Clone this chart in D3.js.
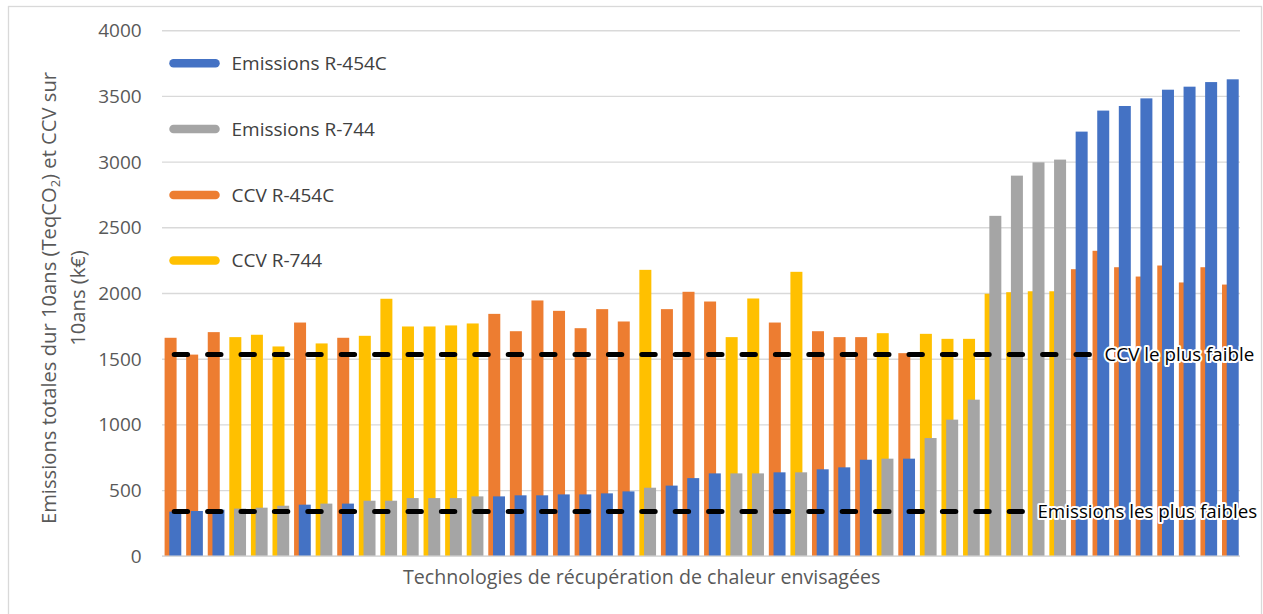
<!DOCTYPE html>
<html>
<head>
<meta charset="utf-8">
<script src="https://cdn.jsdelivr.net/npm/d3@7"></script>
<style>
  html, body { margin: 0; padding: 0; background: #fff; }
  svg { display: block; font-family: "Open Sans", "Noto Sans", sans-serif; }
</style>
</head>
<body>
<svg id="chart" width="1263" height="614"></svg>
<script>
// Heat-recovery technologies, sorted by total emissions over 10 years
const refrigerant = [
  "R-454C","R-454C","R-454C","R-744","R-744","R-744","R-454C","R-744","R-454C","R-744",
  "R-744","R-744","R-744","R-744","R-744","R-454C","R-454C","R-454C","R-454C","R-454C",
  "R-454C","R-454C","R-744","R-454C","R-454C","R-454C","R-744","R-744","R-454C","R-744",
  "R-454C","R-454C","R-454C","R-744","R-454C","R-744","R-744","R-744","R-744","R-744",
  "R-744","R-744","R-454C","R-454C","R-454C","R-454C","R-454C","R-454C","R-454C","R-454C"
];
const categories = refrigerant.map((r, i) => `T${i + 1}`);

// Life-cycle cost over 10 years (k€)
const ccv = [
  1663, 1535, 1706, 1668, 1686, 1597, 1779, 1620, 1663, 1678,
  1960, 1749, 1749, 1757, 1772, 1845, 1713, 1947, 1868, 1736,
  1881, 1787, 2180, 1881, 2013, 1939, 1668, 1962, 1779, 2165,
  1713, 1668, 1668, 1698, 1546, 1693, 1655, 1655, 1998, 2010,
  2017, 2017, 2185, 2325, 2200, 2129, 2213, 2084, 2200, 2068
];

// Total emissions over 10 years (TeqCO2)
const emissions = [
  340, 345, 355, 363, 370, 385, 393, 401, 401, 423,
  423, 443, 443, 443, 456, 456, 464, 464, 471, 471,
  479, 494, 522, 538, 595, 631, 631, 631, 639, 639,
  662, 677, 735, 743, 743, 900, 1040, 1192, 2591, 2897,
  2998, 3019, 3232, 3392, 3427, 3485, 3551, 3574, 3609, 3630
];

const yTicks = [0, 500, 1000, 1500, 2000, 2500, 3000, 3500, 4000];

const seriesNames = ["Emissions R-454C", "Emissions R-744", "CCV R-454C", "CCV R-744"];
const seriesColors = ["#4472C4", "#A5A5A5", "#ED7D31", "#FFC000"];

const svg = d3.select("#chart");
const plot = { left: 162, right: 1241, top: 30.7, bottom: 556.3 };

// chart frame
svg.append("rect")
  .attr("x", 8.5).attr("y", 6.5)
  .attr("width", 1253).attr("height", 620)
  .attr("fill", "#fff").attr("stroke", "#d9d9d9").attr("stroke-width", 1.3);

const x = d3.scaleBand().domain(categories).range([plot.left, plot.right]).padding(0);
const xi = d3.scaleLinear().domain([0, categories.length]).range([plot.left, plot.right]);
const y = d3.scaleLinear().domain([0, 4000]).range([plot.bottom, plot.top]);
const step = x.bandwidth();
const barW = step * 0.556;
const pairStart = step * 0.12;
const shift = step * 0.218;

// gridlines
svg.append("g").selectAll("line").data(yTicks).join("line")
  .attr("x1", plot.left).attr("x2", plot.right - 1)
  .attr("y1", d => y(d)).attr("y2", d => y(d))
  .attr("stroke", "#d9d9d9").attr("stroke-width", 1.4);

// y axis labels
const yAxis = d3.axisLeft(y).tickValues(yTicks).tickFormat(d3.format("d")).tickSize(0).tickPadding(0);
const gy = svg.append("g").attr("transform", `translate(141.7,0)`).call(yAxis);
gy.select(".domain").remove();
gy.selectAll("text")
  .attr("font-family", "'Open Sans', sans-serif")
  .attr("font-size", 19).attr("fill", "#595959");

const colorFor = (kind, r) => {
  if (kind === "em") return r === "R-454C" ? seriesColors[0] : seriesColors[1];
  return r === "R-454C" ? seriesColors[2] : seriesColors[3];
};

// CCV bars (behind)
svg.append("g").selectAll("rect").data(categories).join("rect")
  .attr("x", (c) => x(c) + pairStart)
  .attr("width", barW)
  .attr("y", (c, i) => y(ccv[i]))
  .attr("height", (c, i) => y(0) - y(ccv[i]))
  .attr("fill", (c, i) => colorFor("ccv", refrigerant[i]));

// emission bars (in front, shifted right)
svg.append("g").selectAll("rect").data(categories).join("rect")
  .attr("x", (c) => x(c) + pairStart + shift)
  .attr("width", barW)
  .attr("y", (c, i) => y(emissions[i]))
  .attr("height", (c, i) => y(0) - y(emissions[i]))
  .attr("fill", (c, i) => colorFor("em", refrigerant[i]));

// x axis line
svg.append("line")
  .attr("x1", plot.left).attr("x2", plot.right - 1)
  .attr("y1", y(0)).attr("y2", y(0))
  .attr("stroke", "#d9d9d9").attr("stroke-width", 1.4);

// reference lines at the lowest values
const minLines = [
  { label: "CCV le plus faible", value: d3.min(ccv), from: 0.565, to: 42.98 },
  { label: "Emissions les plus faibles", value: d3.min(emissions), from: 0.565, to: 39.87 }
];
const refG = svg.append("g");
minLines.forEach(l => {
  refG.append("line")
    .attr("x1", xi(l.from)).attr("x2", xi(l.to))
    .attr("y1", y(l.value)).attr("y2", y(l.value))
    .attr("stroke", "#000").attr("stroke-width", 5)
    .attr("stroke-linecap", "round")
    .attr("stroke-dasharray", "13.4,20");
  refG.append("text")
    .attr("x", xi(l.to) + 15).attr("y", y(l.value))
    .attr("dy", "0.35em")
    .attr("font-size", 18.8).attr("fill", "#000")
    .attr("stroke", "#fff").attr("stroke-width", 4).attr("stroke-linejoin", "round")
    .attr("paint-order", "stroke")
    .text(l.label);
});

// legend
const legendY = [63.3, 129, 195, 260.5];
const lg = svg.append("g");
seriesNames.forEach((name, i) => {
  lg.append("line")
    .attr("x1", 173.5).attr("x2", 215.5)
    .attr("y1", legendY[i]).attr("y2", legendY[i])
    .attr("stroke", seriesColors[i]).attr("stroke-width", 8.5)
    .attr("stroke-linecap", "round");
  lg.append("text")
    .attr("x", 231.5).attr("y", legendY[i]).attr("dy", "0.35em")
    .attr("font-size", 19).attr("fill", "#404040")
    .text(name);
});

// axis titles
svg.append("text")
  .attr("x", 641.7).attr("y", 583.5)
  .attr("text-anchor", "middle")
  .attr("font-size", 19.6).attr("fill", "#595959")
  .text("Technologies de récupération de chaleur envisagées");

const yTitle = svg.append("text")
  .attr("transform", "translate(0,298) rotate(-90)")
  .attr("text-anchor", "middle")
  .attr("font-size", 20.2).attr("fill", "#595959");
const t1 = yTitle.append("tspan").attr("x", 0).attr("y", 56);
t1.append("tspan").text("Emissions totales dur 10ans (TeqCO");
t1.append("tspan").attr("font-size", 13).attr("dy", 4).text("2");
t1.append("tspan").attr("dy", -4).text(") et CCV sur");
yTitle.append("tspan").attr("x", 0).attr("y", 84.5).text("10ans (k€)");
</script>
</body>
</html>
